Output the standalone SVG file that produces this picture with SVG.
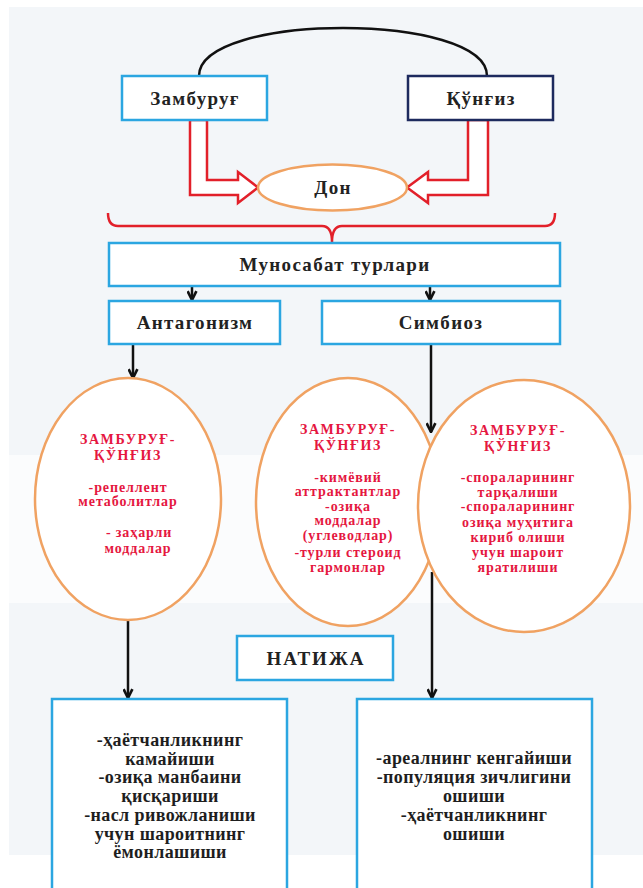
<svg xmlns="http://www.w3.org/2000/svg" width="643" height="888" viewBox="0 0 643 888">
<defs>
<style>
.bg{fill:#f3f6f9}
.box{fill:#ffffff;stroke:#2ba6e1;stroke-width:2.5}
.navy{fill:#ffffff;stroke:#1d2a5e;stroke-width:2.5}
.ell{fill:#ffffff;stroke:#f0a262;stroke-width:2.5}
.red{fill:#ffffff;stroke:#e2202a;stroke-width:2.5;stroke-linejoin:miter}
.brace{fill:none;stroke:#e2202a;stroke-width:2.5}
.line{fill:none;stroke:#111111;stroke-width:2.5}
.lbl{font-family:"Liberation Serif","Times New Roman",serif;font-weight:bold;font-size:19px;fill:#222222;text-anchor:middle;letter-spacing:1.3px}
.red-t{font-family:"Liberation Serif","Times New Roman",serif;font-weight:bold;font-size:14px;fill:#e5173f;text-anchor:middle;letter-spacing:0.9px}
.cap{letter-spacing:1.6px}
.res{font-family:"Liberation Serif","Times New Roman",serif;font-weight:bold;font-size:18px;fill:#1e1e1e;text-anchor:middle;letter-spacing:0.4px}
</style>
<marker id="ah" viewBox="0 0 10 10" refX="9" refY="5" markerWidth="11" markerHeight="11" markerUnits="userSpaceOnUse" orient="auto">
<path d="M1,1 L9,5 L1,9" fill="none" stroke="#111111" stroke-width="2.4"/>
</marker>
</defs>
<g id="background">
<rect class="bg" x="9" y="7" width="634" height="448"/>
<rect x="9" y="455" width="634" height="148" fill="#fbfcfd"/>
<rect class="bg" x="9" y="603" width="634" height="252"/>
</g>
<g id="connectors">
<path class="line" d="M199,76 C199,12 487,12 487,76"/>
<polygon class="red" points="190,120 190,195 238,195 238,203 258,187.5 238,172 238,180 207,180 207,120"/>
<polygon class="red" points="488,120 488,195 428,195 428,203 407,187.5 428,172 428,180 468,180 468,120"/>
<path class="brace" d="M108,213 Q108,226 118,226 L322,226 Q332,226 332,242 Q332,226 342,226 L545,226 Q555,226 555,213"/>
<line class="line" x1="192" y1="286" x2="192" y2="300" marker-end="url(#ah)"/>
<line class="line" x1="430" y1="286" x2="430" y2="300" marker-end="url(#ah)"/>
<line class="line" x1="133" y1="344" x2="133" y2="378" marker-end="url(#ah)"/>
<line class="line" x1="431" y1="344" x2="431" y2="432" marker-end="url(#ah)"/>
<line class="line" x1="128" y1="620" x2="128" y2="698" marker-end="url(#ah)"/>
<line class="line" x1="432" y1="572" x2="432" y2="698" marker-end="url(#ah)"/>
</g>
<g id="zamburug">
<rect class="box" x="122" y="76" width="145" height="44"/>
<text class="lbl" x="195" y="104.5">Замбуруғ</text>
</g>
<g id="qungiz">
<rect class="navy" x="408" y="76" width="145" height="44"/>
<text class="lbl" x="481" y="104.5">Қўнғиз</text>
</g>
<g id="don">
<ellipse class="ell" cx="332.5" cy="187.5" rx="74.5" ry="23"/>
<text class="lbl" x="333" y="194">Дон</text>
</g>
<g id="munosabat">
<rect class="box" x="109" y="243" width="451" height="43"/>
<text class="lbl" x="335" y="270.5">Муносабат турлари</text>
</g>
<g id="antagonizm">
<rect class="box" x="109" y="301" width="171" height="43"/>
<text class="lbl" x="195" y="329">Антагонизм</text>
</g>
<g id="simbioz">
<rect class="box" x="322" y="301" width="238" height="43"/>
<text class="lbl" x="441" y="329">Симбиоз</text>
</g>
<g id="ellipse-antagonizm">
<ellipse class="ell" cx="128" cy="499" rx="93" ry="121"/>
<text class="red-t cap" x="128" y="444">ЗАМБУРУҒ-</text>
<text class="red-t cap" x="128" y="459.5">ҚЎНҒИЗ</text>
<text class="red-t" x="128" y="491.5">-репеллент</text>
<text class="red-t" x="128" y="505.5">метаболитлар</text>
<text class="red-t" x="139" y="537">- заҳарли</text>
<text class="red-t" x="138" y="552.5">моддалар</text>
</g>
<g id="ellipse-simbioz-1">
<ellipse class="ell" cx="348" cy="502" rx="92" ry="124"/>
<text class="red-t cap" x="348" y="434">ЗАМБУРУҒ-</text>
<text class="red-t cap" x="348" y="449.5">ҚЎНҒИЗ</text>
<text class="red-t" x="348" y="481.5">-кимёвий</text>
<text class="red-t" x="348" y="496">аттрактантлар</text>
<text class="red-t" x="348" y="510.5">-озиқа</text>
<text class="red-t" x="348" y="525">моддалар</text>
<text class="red-t" x="348" y="539.5">(углеводлар)</text>
<text class="red-t" x="348" y="557">-турли стероид</text>
<text class="red-t" x="348" y="572">гармонлар</text>
</g>
<g id="ellipse-simbioz-2">
<ellipse class="ell" cx="524" cy="506" rx="106" ry="126"/>
<text class="red-t cap" x="518" y="435">ЗАМБУРУҒ-</text>
<text class="red-t cap" x="518" y="450.5">ҚЎНҒИЗ</text>
<text class="red-t" x="518" y="481.5">-спораларининг</text>
<text class="red-t" x="518" y="496.5">тарқалиши</text>
<text class="red-t" x="518" y="511">-спораларининг</text>
<text class="red-t" x="518" y="527">озиқа муҳитига</text>
<text class="red-t" x="518" y="541.5">кириб олиши</text>
<text class="red-t" x="518" y="557">учун шароит</text>
<text class="red-t" x="518" y="572">яратилиши</text>
</g>
<g id="natija">
<rect class="box" x="237" y="636" width="156" height="44"/>
<text class="lbl" x="316" y="664.5" style="letter-spacing:2px">НАТИЖА</text>
</g>
<g id="result-antagonizm">
<rect class="box" x="52" y="699" width="235" height="200"/>
<text class="res" x="170" y="746">-ҳаётчанликнинг</text>
<text class="res" x="170" y="764.5">камайиши</text>
<text class="res" x="170" y="783">-озиқа манбаини</text>
<text class="res" x="170" y="802">қисқариши</text>
<text class="res" x="170" y="821">-насл ривожланиши</text>
<text class="res" x="170" y="839.5">учун шароитнинг</text>
<text class="res" x="170" y="858">ёмонлашиши</text>
</g>
<g id="result-simbioz">
<rect class="box" x="357" y="699" width="235" height="200"/>
<text class="res" x="474" y="764">-ареалнинг кенгайиши</text>
<text class="res" x="474" y="782.5">-популяция зичлигини</text>
<text class="res" x="474" y="802">ошиши</text>
<text class="res" x="474" y="821">-ҳаётчанликнинг</text>
<text class="res" x="474" y="839.5">ошиши</text>
</g>
</svg>
